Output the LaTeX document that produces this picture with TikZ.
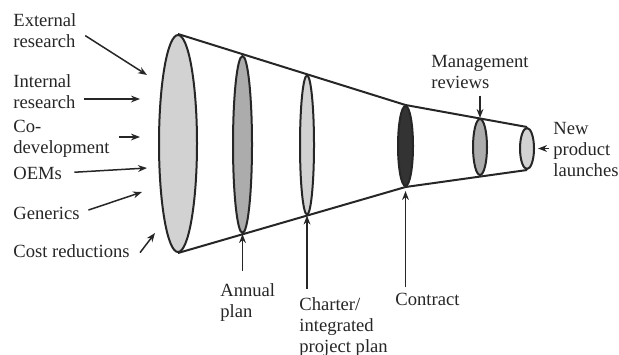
\documentclass[tikz,border=0pt]{standalone}
\usepackage{fontspec}
\setmainfont{Liberation Serif}
\usetikzlibrary{shapes.geometric, arrows.meta, positioning, calc}

\begin{document}
\begin{tikzpicture}[
    x=0.5pt, y=-0.5pt,
    stage/.style={ellipse, draw=black!85, line width=1pt, inner sep=0pt},
    lbl/.style={inner sep=0pt, align=left, anchor=base west, text=black!85, font=\fontsize{9.3}{10.4}\selectfont},
    arrow/.style={line width=0.75pt, draw=black!85, -{Stealth[length=4.5pt, width=3.4pt]}},
    funnel/.style={line width=1pt, draw=black!85},
]
    \useasboundingbox (0,0) rectangle (619,354);

    \node[stage, fill=gray!35, minimum width=19pt, minimum height=108.5pt] (s1) at (178,143.5) {};
    \node[stage, fill=gray!65, minimum width=9.5pt, minimum height=88.5pt] (s2) at (242.5,144.5) {};
    \node[stage, fill=gray!35, minimum width=7pt, minimum height=69.5pt] (s3) at (307,145) {};
    \node[stage, fill=black!80, minimum width=7.5pt, minimum height=40pt] (s4) at (405.5,146) {};
    \node[stage, fill=gray!65, minimum width=7pt, minimum height=28pt] (s5) at (480,147) {};
    \node[stage, fill=gray!35, minimum width=7pt, minimum height=20.5pt] (s6) at (527,148.5) {};

    \draw[funnel] (s1.north) -- (s4.north) -- (s6.north);
    \draw[funnel] (s1.south) -- (s4.south) -- (s6.south);

    \node[lbl] (ext) at (13,47) {External\\research};
    \node[lbl] (int) at (13,108) {Internal\\research};
    \node[lbl] (codev) at (13,153) {Co-\\development};
    \node[lbl] (oem) at (13,179) {OEMs};
    \node[lbl] (gen) at (13,219) {Generics};
    \node[lbl] (cost) at (13,257) {Cost reductions};

    \coordinate (extTip) at (147,75);
    \coordinate (intTip) at (140,99);
    \coordinate (codevTip) at (140,137);
    \coordinate (oemTip) at (147,168);
    \coordinate (genTip) at (142,192);
    \coordinate (costTip) at (155,233);

    \draw[arrow, shorten <=5pt] (ext.east) -- (extTip);
    \draw[arrow, shorten <=4pt] (int.east |- intTip) -- (intTip);
    \draw[arrow, shorten <=4.5pt] (codev.east |- codevTip) -- (codevTip);
    \draw[arrow, shorten <=6pt] (oem.east) -- (oemTip);
    \draw[arrow, shorten <=4.5pt] (gen.east) -- (genTip);
    \draw[arrow] ([xshift=5pt, yshift=-1pt]cost.east) -- (costTip);

    \node[lbl] (annual) at (220,317) {Annual\\plan};
    \node[lbl] (charter) at (299,352) {Charter/\\integrated\\project plan};
    \node[lbl] (contract) at (395,305) {Contract};
    \node[lbl] (mgmt) at (431,88) {Management\\reviews};
    \node[lbl] (launch) at (553,176) {New\\product\\launches};

    \draw[arrow, shorten <=6pt] (annual.north -| s2.south) -- (s2.south);
    \draw[arrow, shorten <=4pt] (charter.north -| s3.south) -- (s3.south);
    \draw[arrow, shorten <=2.5pt, shorten >=2pt] (contract.north -| s4.south) -- (s4.south);
    \draw[arrow, shorten <=3.5pt] (mgmt.south -| s5.north) -- (s5.north);
    \draw[arrow, shorten <=2pt, shorten >=1.5pt] (launch.west |- s6.east) -- (s6.east);
\end{tikzpicture}
\end{document}
